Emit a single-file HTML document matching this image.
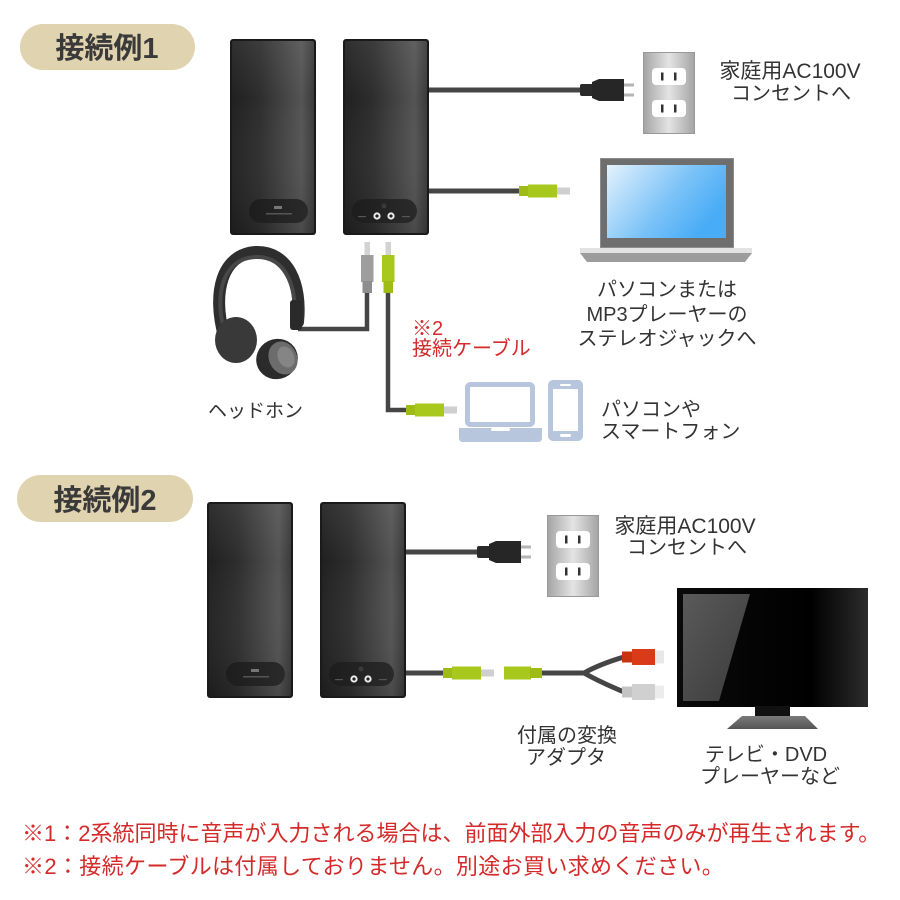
<!DOCTYPE html>
<html><head><meta charset="utf-8">
<style>
html,body{margin:0;padding:0;background:#fff;}
svg{display:block;}
text{font-family:"Liberation Sans","Noto Sans CJK JP",sans-serif;}
</style></head><body>
<svg width="900" height="900" viewBox="0 0 900 900" xmlns="http://www.w3.org/2000/svg">
<defs>
 <linearGradient id="spk" x1="0" y1="0" x2="1" y2="0">
  <stop offset="0" stop-color="#202020"/>
  <stop offset="0.35" stop-color="#2e2e2e"/>
  <stop offset="0.85" stop-color="#545454"/>
  <stop offset="1" stop-color="#3a3a3a"/>
 </linearGradient>
 <linearGradient id="spkv" x1="0" y1="0" x2="0" y2="1">
  <stop offset="0" stop-color="#ffffff" stop-opacity="0.07"/>
  <stop offset="0.3" stop-color="#ffffff" stop-opacity="0"/>
  <stop offset="1" stop-color="#000000" stop-opacity="0.12"/>
 </linearGradient>
 <linearGradient id="pnl" x1="0" y1="0" x2="1" y2="0">
  <stop offset="0" stop-color="#1d1d1d"/>
  <stop offset="1" stop-color="#2a2a2a"/>
 </linearGradient>
 <linearGradient id="outg" x1="0" y1="0" x2="1" y2="0">
  <stop offset="0" stop-color="#a4a4a4"/>
  <stop offset="0.5" stop-color="#e4e4e4"/>
  <stop offset="1" stop-color="#a4a4a4"/>
 </linearGradient>
 <linearGradient id="scr" x1="0" y1="0" x2="1" y2="0.5">
  <stop offset="0" stop-color="#e4f2fd"/>
  <stop offset="0.6" stop-color="#7cc3f8"/>
  <stop offset="1" stop-color="#48acf6"/>
 </linearGradient>
 <linearGradient id="tvg" x1="0" y1="0" x2="1" y2="0">
  <stop offset="0" stop-color="#0a0a0a"/>
  <stop offset="0.7" stop-color="#000"/>
  <stop offset="1" stop-color="#2c2c2c"/>
 </linearGradient>
 <linearGradient id="refl" x1="0" y1="0" x2="1" y2="1">
  <stop offset="0" stop-color="#5a5a5a"/>
  <stop offset="1" stop-color="#3a3a3a"/>
 </linearGradient>
 <linearGradient id="stand" x1="0" y1="0" x2="0" y2="1">
  <stop offset="0" stop-color="#7a7a7a"/>
  <stop offset="1" stop-color="#555"/>
 </linearGradient>

 <g id="spkBody">
  <rect x="0" y="0" width="86" height="196" rx="3" fill="#1a1a1a"/>
  <rect x="2" y="2" width="82" height="192" rx="2" fill="url(#spk)"/>
  <rect x="2" y="2" width="82" height="192" rx="2" fill="url(#spkv)"/>
 </g>
 <g id="spkL">
  <use href="#spkBody"/>
  <rect x="19" y="160" width="59" height="24" rx="12" fill="url(#pnl)"/>
  <rect x="44" y="167" width="8" height="3" fill="#777"/>
  <rect x="36" y="174" width="26" height="1.5" fill="#555"/>
 </g>
 <g id="spkR">
  <use href="#spkBody"/>
  <rect x="9" y="160" width="65" height="24" rx="12" fill="url(#pnl)"/>
  <circle cx="41" cy="167" r="2.5" fill="#3a3a3a"/>
  <circle cx="34" cy="177" r="3.6" fill="#eee"/>
  <circle cx="34" cy="177" r="1.6" fill="#222"/>
  <circle cx="48" cy="177" r="3.6" fill="#eee"/>
  <circle cx="48" cy="177" r="1.6" fill="#222"/>
  <rect x="15" y="177" width="8" height="1.2" fill="#555"/>
  <rect x="59" y="177" width="8" height="1.2" fill="#555"/>
 </g>
 <g id="outlet">
  <rect x="0.5" y="0.5" width="51" height="81" fill="url(#outg)" stroke="#999"/>
  <rect x="9" y="16" width="34" height="17" rx="4" fill="#fff"/>
  <rect x="18" y="20.5" width="2.5" height="8" fill="#333"/>
  <rect x="31" y="20.5" width="2.5" height="8" fill="#333"/>
  <rect x="9" y="48" width="34" height="17" rx="4" fill="#fff"/>
  <rect x="18" y="52.5" width="2.5" height="8" fill="#333"/>
  <rect x="31" y="52.5" width="2.5" height="8" fill="#333"/>
 </g>
 <g id="plug">
  <rect x="0" y="-6" width="15" height="12" rx="2" fill="#2a2a2a"/>
  <path d="M12,-8 L19,-11 L44,-11 L44,11 L19,11 L12,8 Z" fill="#262626"/>
  <rect x="44" y="-6.5" width="10" height="3" fill="#b5b5b5"/>
  <rect x="44" y="3.5" width="10" height="3" fill="#b5b5b5"/>
 </g>
 <g id="gplug">
  <rect x="0" y="-5" width="10" height="10" fill="#9fbb15"/>
  <rect x="9" y="-6.5" width="29" height="13" fill="#a9c81e"/>
  <rect x="38" y="-3.5" width="13" height="7" fill="#cfcfcf"/>
 </g>
</defs>

<!-- ===== Section 1 ===== -->
<rect x="20" y="24" width="175" height="46" rx="23" fill="#e0d3b0"/>
<text x="107" y="58" font-size="29" font-weight="bold" fill="#3a3a3a" text-anchor="middle">接続例1</text>

<line x1="428" y1="90" x2="582" y2="90" stroke="#454545" stroke-width="5"/>
<line x1="428" y1="191" x2="521" y2="191" stroke="#454545" stroke-width="5"/>

<use href="#spkL" x="230" y="39"/>
<use href="#spkR" x="343" y="39"/>

<use href="#plug" x="580" y="90"/>
<use href="#outlet" x="643" y="52"/>
<use href="#gplug" x="519" y="191"/>

<text x="790" y="78" font-size="21" fill="#333" text-anchor="middle">家庭用AC100V</text>
<text x="791" y="100" font-size="20" fill="#333" text-anchor="middle">コンセントへ</text>

<rect x="600" y="158" width="134" height="90" fill="#6e6e6e"/>
<rect x="600.5" y="158.5" width="133" height="89" fill="none" stroke="#8c8c8c"/>
<rect x="607" y="165" width="119" height="73" fill="url(#scr)"/>
<path d="M580,248 L752,248 L752,253 L745,262 L587,262 L580,253 Z" fill="#9c9c9c"/>
<rect x="580" y="248" width="172" height="5" fill="#e2e2e2"/>

<text x="667" y="296" font-size="20" fill="#333" text-anchor="middle">パソコンまたは</text>
<text x="667" y="321" font-size="20" fill="#333" text-anchor="middle">MP3プレーヤーの</text>
<text x="667" y="345" font-size="20" fill="#333" text-anchor="middle">ステレオジャックへ</text>

<path d="M367,292 L367,329 L298,329" fill="none" stroke="#454545" stroke-width="4.5"/>
<path d="M388,292 L388,410 L408,410" fill="none" stroke="#454545" stroke-width="4.5"/>
<rect x="364.5" y="242" width="5.5" height="14" fill="#d3d3d3"/>
<rect x="361" y="255" width="12.5" height="27" fill="#9e9e9e"/>
<rect x="362.5" y="281" width="9.5" height="12" fill="#8e8e8e"/>
<rect x="385.5" y="242" width="5.5" height="14" fill="#d3d3d3"/>
<rect x="382" y="255" width="12.5" height="27" fill="#a9c81e"/>
<rect x="383.5" y="281" width="9.5" height="12" fill="#9fbb15"/>
<use href="#gplug" x="406" y="410"/>

<path d="M224,336 C212,292 222,254 256,252 C288,251 302,284 298,322" fill="none" stroke="#2e2e2e" stroke-width="12" stroke-linecap="round"/>
<path d="M224,330 C214,292 224,258 256,257 C285,256 297,286 294,318" fill="none" stroke="#474747" stroke-width="4"/>
<rect x="290" y="300" width="12" height="30" rx="3" fill="#2a2a2a"/>
<ellipse cx="236" cy="340" rx="21" ry="23" fill="#393939"/>
<ellipse cx="277" cy="359" rx="21" ry="20" transform="rotate(-25 277 359)" fill="#2b2b2b"/>
<ellipse cx="283" cy="358" rx="14" ry="17" transform="rotate(-25 283 358)" fill="#6c6c6c"/>
<ellipse cx="286" cy="357" rx="8" ry="11" transform="rotate(-25 286 357)" fill="#858585"/>

<text x="208" y="417" font-size="19" fill="#333">ヘッドホン</text>

<text x="412" y="335" font-size="20" fill="#d42a2a">※2</text>
<text x="412" y="355" font-size="20" fill="#d42a2a">接続ケーブル</text>

<rect x="467.5" y="384.5" width="65" height="40" rx="3" fill="none" stroke="#b7c5dd" stroke-width="5"/>
<path d="M459,428 L542,428 L542,438 Q542,442 538,442 L463,442 Q459,442 459,438 Z" fill="#b7c5dd"/>
<rect x="491" y="428" width="19" height="3" rx="1.5" fill="#fff"/>
<rect x="548" y="380" width="35" height="61" rx="5" fill="#b7c5dd"/>
<rect x="553" y="389" width="25" height="42" fill="#fff"/>
<rect x="560" y="384" width="11" height="2" rx="1" fill="#fff"/>
<rect x="560" y="434" width="11" height="3" rx="1.5" fill="#fff"/>

<text x="601" y="416" font-size="20" fill="#333">パソコンや</text>
<text x="601" y="438" font-size="20" fill="#333">スマートフォン</text>

<!-- ===== Section 2 ===== -->
<rect x="17" y="475" width="176" height="47" rx="23.5" fill="#e0d3b0"/>
<text x="105" y="510" font-size="29" font-weight="bold" fill="#3a3a3a" text-anchor="middle">接続例2</text>

<line x1="405" y1="552" x2="479" y2="552" stroke="#454545" stroke-width="5"/>
<line x1="405" y1="673" x2="445" y2="673" stroke="#454545" stroke-width="5"/>

<use href="#spkL" x="207" y="502"/>
<use href="#spkR" x="320" y="502"/>

<use href="#plug" x="477" y="552"/>
<use href="#outlet" x="547" y="515"/>

<text x="685" y="533" font-size="21" fill="#333" text-anchor="middle">家庭用AC100V</text>
<text x="687" y="554" font-size="20" fill="#333" text-anchor="middle">コンセントへ</text>

<use href="#gplug" x="443" y="673"/>
<path d="M540,673 L584,673 Q600,664 624,657 M584,673 Q600,682 624,692" fill="none" stroke="#454545" stroke-width="5"/>
<rect x="504" y="666.5" width="27" height="13" fill="#a9c81e"/>
<rect x="530" y="668" width="12" height="10" fill="#9fbb15"/>
<rect x="622" y="651.5" width="11" height="11" fill="#c8320f"/>
<rect x="632" y="649" width="23" height="16" fill="#d93a17"/>
<rect x="655" y="650.5" width="9" height="13" fill="#e8e8e8"/>
<rect x="622" y="686.5" width="11" height="11" fill="#c4c4c4"/>
<rect x="632" y="684" width="23" height="16" fill="#d0d0d0"/>
<rect x="655" y="685.5" width="9" height="13" fill="#ececec"/>

<rect x="677" y="588" width="191" height="119" fill="url(#tvg)"/>
<path d="M683,594 L750,594 L719,701 L683,701 Z" fill="url(#refl)"/>
<rect x="755" y="706" width="35" height="11" fill="#111"/>
<path d="M742,716 L805,716 L818,729 L727,729 Z" fill="url(#stand)"/>

<text x="567" y="742" font-size="20" fill="#333" text-anchor="middle">付属の変換</text>
<text x="566" y="764" font-size="20" fill="#333" text-anchor="middle">アダプタ</text>
<text x="766" y="761" font-size="20" fill="#333" text-anchor="middle">テレビ・DVD</text>
<text x="770" y="783" font-size="20" fill="#333" text-anchor="middle">プレーヤーなど</text>

<text x="22" y="841" font-size="22" fill="#d42a2a">※1：2系統同時に音声が入力される場合は、前面外部入力の音声のみが再生されます。</text>
<text x="22" y="874" font-size="22" letter-spacing="0.35" fill="#d42a2a">※2：接続ケーブルは付属しておりません。別途お買い求めください。</text>
</svg>
</body></html>
